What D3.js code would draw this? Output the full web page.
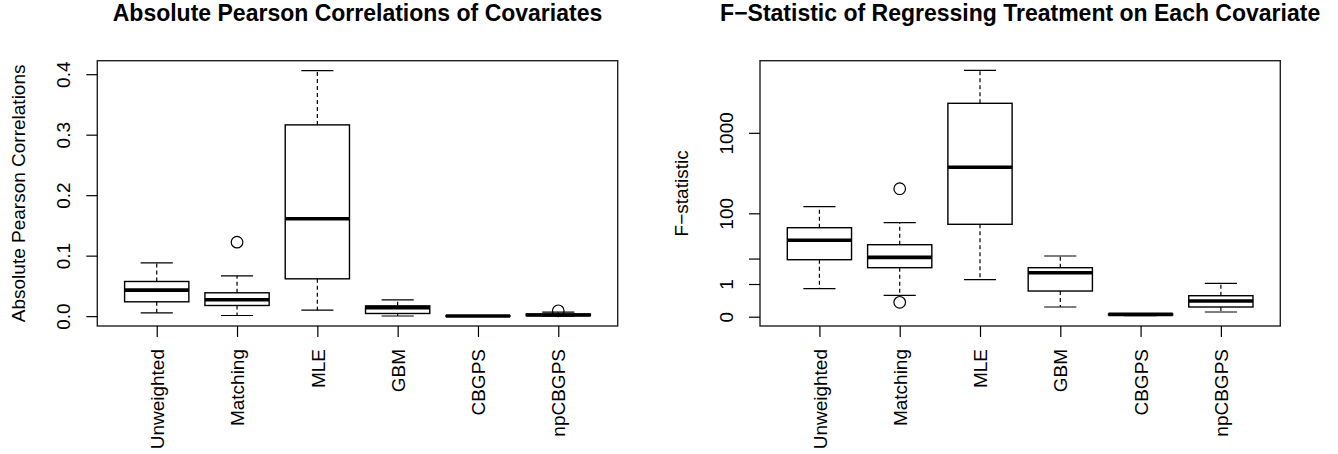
<!DOCTYPE html>
<html>
<head>
<meta charset="utf-8">
<script src="https://cdn.jsdelivr.net/npm/d3@7"></script>
<style>
  html, body { margin: 0; padding: 0; background: #fff; }
  svg text { font-family: "Liberation Sans", Arial, Helvetica, sans-serif; fill: #000; }
</style>
</head>
<body>
<svg id="chart" width="1338" height="454"></svg>
<script>
/* ---------- Daten ---------- */
const categories = ["Unweighted", "Matching", "MLE", "GBM", "CBGPS", "npCBGPS"];

// absolute Pearson correlations: whisker low, Q1, median, Q3, whisker high
const corrLo  = [0.0055, 0.0011, 0.0099, 0.0002, 0.0000, 0.0000];
const corrQ1  = [0.0237, 0.0176, 0.0617, 0.0044, 0.0001, 0.0009];
const corrMed = [0.0430, 0.0270, 0.1610, 0.0138, 0.0002, 0.0020];
const corrQ3  = [0.0573, 0.0386, 0.3162, 0.0170, 0.0003, 0.0035];
const corrHi  = [0.0881, 0.0667, 0.4060, 0.0270, 0.0004, 0.0066];
const corrOut = [["Matching", 0.1223], ["npCBGPS", 0.0088]];

// F-statistics
const fLo  = [0.537, 0.183, 1.64,   0.0078, 0.000001, 0.00043];
const fQ1  = [9.23,  5.05,  63.8,   0.381,  0.00001,  0.0078];
const fMed = [29.8,  10.88, 435.8,  3.28,   0.000025, 0.053];
const fQ3  = [54.9,  23.5,  1814,   5.05,   0.00004,  0.170];
const fHi  = [128,   68.3,  3224,   11.87,  0.00008,  1.087];
const fOut = [["Matching", 234.7], ["Matching", 0.0375]];

const corrTicks = [0, 0.1, 0.2, 0.3, 0.4];
const fTicks    = [0, 1, 10, 100, 1000];
const fTickLabels = ["0", "1", "", "100", "1000"];

/* ---------- Setup ---------- */
const svg = d3.select("#chart");
const plotTop = 60.7, plotBottom = 326;

function drawPanel(o) {
  const g = svg.append("g");

  const x = d3.scalePoint().domain(categories).range([o.left, o.right]).padding(0.74);
  const y = o.y.range([plotBottom, plotTop]);
  const bw = x.step() * 0.8;

  // Boxplots
  categories.forEach((c, i) => {
    const cx = x(c);
    const bg = g.append("g");
    [[o.q3[i], o.hi[i]], [o.q1[i], o.lo[i]]].forEach(([a, b]) => {
      bg.append("line")
        .attr("x1", cx).attr("x2", cx).attr("y1", y(a)).attr("y2", y(b))
        .attr("stroke", "#000").attr("stroke-width", 1.2).attr("stroke-dasharray", "4,3");
      bg.append("line")
        .attr("x1", cx - bw / 4).attr("x2", cx + bw / 4).attr("y1", y(b)).attr("y2", y(b))
        .attr("stroke", "#000").attr("stroke-width", 1.2);
    });
    bg.append("rect")
      .attr("x", cx - bw / 2).attr("width", bw)
      .attr("y", y(o.q3[i])).attr("height", Math.max(0, y(o.q1[i]) - y(o.q3[i])))
      .attr("fill", "#fff").attr("stroke", "#000").attr("stroke-width", 1.4);
    bg.append("line")
      .attr("x1", cx - bw / 2).attr("x2", cx + bw / 2).attr("y1", y(o.med[i])).attr("y2", y(o.med[i]))
      .attr("stroke", "#000").attr("stroke-width", 3.6);
  });

  g.selectAll("circle.out").data(o.out).enter().append("circle")
    .attr("class", "out")
    .attr("cx", d => x(d[0])).attr("cy", d => y(d[1])).attr("r", 5.8)
    .attr("fill", "none").attr("stroke", "#000").attr("stroke-width", 1.2);

  // Rahmen
  g.append("rect")
    .attr("x", o.left).attr("y", plotTop).attr("width", o.right - o.left).attr("height", plotBottom - plotTop)
    .attr("fill", "none").attr("stroke", "#222").attr("stroke-width", 1.4);

  // Y-Achse
  const ya = g.append("g").attr("transform", `translate(${o.left},0)`)
    .call(d3.axisLeft(y).tickValues(o.ticks).tickFormat((d, i) => o.tickLabels[i]).tickSize(11));
  ya.select(".domain").remove();
  ya.selectAll(".tick line").attr("stroke", "#000").attr("stroke-width", 1.2);
  ya.selectAll(".tick text")
    .attr("x", null).attr("dy", null)
    .attr("text-anchor", "middle")
    .attr("transform", "translate(-27,0) rotate(-90)")
    .attr("font-size", 19);

  // X-Achse
  const xa = g.append("g").attr("transform", `translate(0,${plotBottom})`)
    .call(d3.axisBottom(x).tickSize(11));
  xa.select(".domain").remove();
  xa.selectAll(".tick line").attr("stroke", "#000").attr("stroke-width", 1.2);
  xa.selectAll(".tick text")
    .attr("x", 0).attr("y", 0).attr("dy", "0.35em")
    .attr("text-anchor", "end")
    .attr("transform", "translate(0,23) rotate(-90)")
    .attr("font-size", 19);

  // Titel
  g.append("text")
    .attr("transform", `translate(${o.left - 72},${(plotTop + plotBottom) / 2}) rotate(-90)`)
    .attr("text-anchor", "middle").attr("font-size", 19)
    .text(o.ylabel);
  g.append("text")
    .attr("x", (o.left + o.right) / 2).attr("y", 21)
    .attr("text-anchor", "middle").attr("font-size", 23).attr("font-weight", "bold")
    .text(o.title);
}

drawPanel({
  left: 97.3, right: 617.7,
  y: d3.scaleLinear().domain([-0.0163, 0.4223]),
  lo: corrLo, q1: corrQ1, med: corrMed, q3: corrQ3, hi: corrHi, out: corrOut,
  ticks: corrTicks, tickLabels: corrTicks.map(d3.format(".1f")),
  ylabel: "Absolute Pearson Correlations",
  title: "Absolute Pearson Correlations of Covariates"
});

drawPanel({
  left: 760, right: 1280.3,
  y: d3.scalePow().exponent(0.25).domain([-0.0065, 3757]),
  lo: fLo, q1: fQ1, med: fMed, q3: fQ3, hi: fHi, out: fOut,
  ticks: fTicks, tickLabels: fTickLabels,
  ylabel: "F\u2212statistic",
  title: "F\u2212Statistic of Regressing Treatment on Each Covariate"
});
</script>
</body>
</html>
